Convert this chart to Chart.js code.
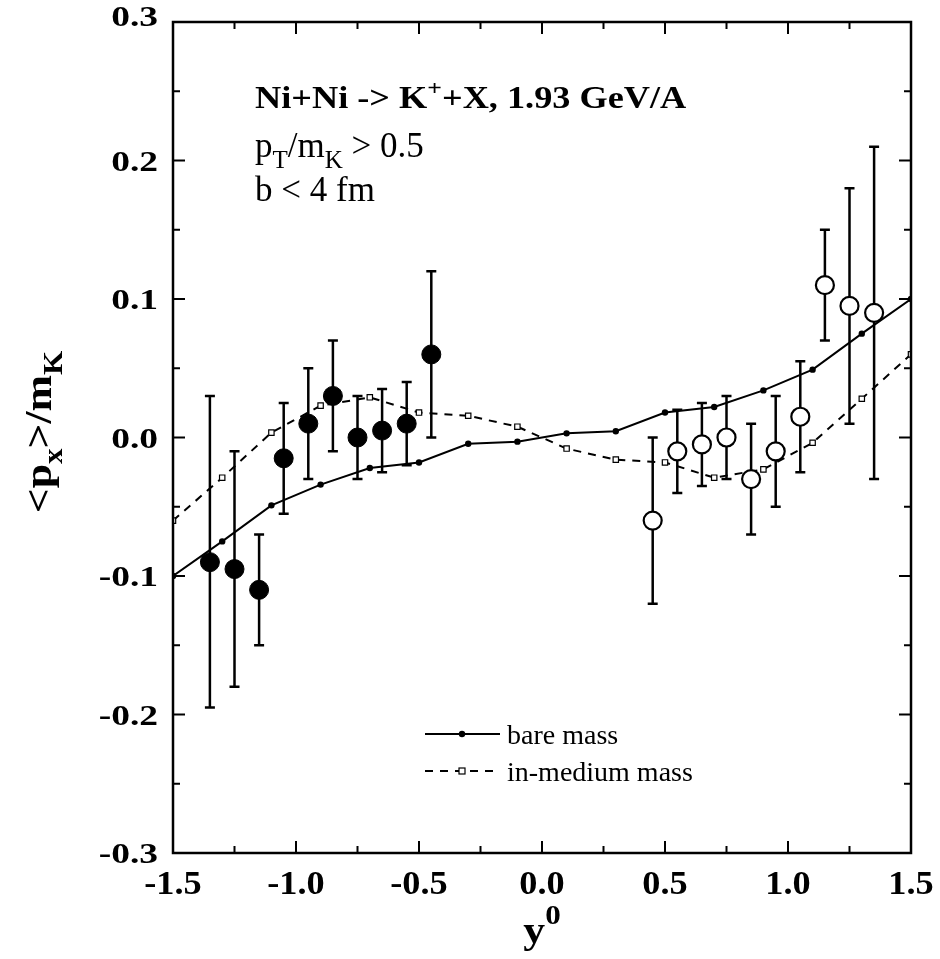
<!DOCTYPE html>
<html>
<head>
<meta charset="UTF-8">
<title>Ni+Ni -> K+ X, directed flow</title>
<script src="https://cdn.jsdelivr.net/npm/chart.js"></script>
<style>
  html, body { margin: 0; padding: 0; background: #fff; }
  #wrap { width: 940px; height: 959px; }
</style>
</head>
<body>
<div id="wrap"><canvas id="grafico" width="940" height="959"></canvas></div>
<script>
// --- data ---
// measured points, y0 < 0 (filled circles)
var rapFilled = [-1.35, -1.25, -1.15, -1.05, -0.95, -0.85, -0.75, -0.65, -0.55, -0.45];
var pxFilled  = [-0.09, -0.095, -0.11, -0.015, 0.01, 0.03, 0.0, 0.005, 0.01, 0.06];
var loFilled  = [-0.195, -0.18, -0.15, -0.055, -0.03, -0.01, -0.03, -0.025, -0.02, 0.0];
var hiFilled  = [0.03, -0.01, -0.07, 0.025, 0.05, 0.07, 0.03, 0.035, 0.04, 0.12];

// measured points, y0 > 0 (open circles)
var rapOpen = [0.45, 0.55, 0.65, 0.75, 0.85, 0.95, 1.05, 1.15, 1.25, 1.35];
var pxOpen  = [-0.06, -0.01, -0.005, 0.0, -0.03, -0.01, 0.015, 0.11, 0.095, 0.09];
var loOpen  = [-0.12, -0.04, -0.035, -0.03, -0.07, -0.05, -0.025, 0.07, 0.01, -0.03];
var hiOpen  = [0.0, 0.02, 0.025, 0.03, 0.01, 0.03, 0.055, 0.15, 0.18, 0.21];

// model curves
var rapModel   = [-1.5, -1.3, -1.1, -0.9, -0.7, -0.5, -0.3, -0.1, 0.1, 0.3, 0.5, 0.7, 0.9, 1.1, 1.3, 1.5];
var bareMass   = [-0.1, -0.075, -0.049, -0.034, -0.022, -0.018, -0.0045, -0.003, 0.003, 0.0045, 0.018, 0.022, 0.034, 0.049, 0.075, 0.1];
var mediumMass = [-0.06, -0.029, 0.0035, 0.023, 0.029, 0.018, 0.0157, 0.0078, -0.008, -0.016, -0.018, -0.029, -0.023, -0.0038, 0.028, 0.06];

// ticks
var xTickValues = [-1.5, -1.0, -0.5, 0.0, 0.5, 1.0, 1.5];
var xTickLabels = ['-1.5', '-1.0', '-0.5', '0.0', '0.5', '1.0', '1.5'];
var yTickValues = [-0.3, -0.2, -0.1, 0.0, 0.1, 0.2, 0.3];
var yTickLabels = ['-0.3', '-0.2', '-0.1', '0.0', '0.1', '0.2', '0.3'];

var legendLabels = ['bare mass', 'in-medium mass'];

function pts(xs, ys) {
    var out = [];
    for (var i = 0; i < xs.length; i++) out.push({ x: xs[i], y: ys[i] });
    return out;
}

var SERIF = '"Liberation Serif", "Times New Roman", serif';

// draws text made of pieces (sub/superscripts), stretched horizontally by sx
function richText(ctx, parts, x, y, size, weight, sx, align) {
    var w = 0;
    parts.forEach(function (p) {
        ctx.font = weight + ' ' + Math.round(size * (p.s || 1)) + 'px ' + SERIF;
        p._w = ctx.measureText(p.t).width;
        w += p._w;
    });
    var start = x;
    if (align === 'center') start = x - w * sx / 2;
    if (align === 'right') start = x - w * sx;
    ctx.save();
    ctx.translate(start, y);
    ctx.scale(sx, 1);
    ctx.textAlign = 'left';
    ctx.textBaseline = 'alphabetic';
    var cx = 0;
    parts.forEach(function (p) {
        ctx.font = weight + ' ' + Math.round(size * (p.s || 1)) + 'px ' + SERIF;
        ctx.fillText(p.t, cx, (p.dy || 0) * size);
        cx += p._w;
    });
    ctx.restore();
}

var decor = {
    id: 'decor',
    beforeDatasetsDraw: function (chart) {
        var ctx = chart.ctx, xs = chart.scales.x, ys = chart.scales.y;
        ctx.save();
        ctx.strokeStyle = '#000';
        ctx.lineWidth = 2.5;
        function bars(rap, lo, hi) {
            for (var i = 0; i < rap.length; i++) {
                var px = xs.getPixelForValue(rap[i]);
                var p1 = ys.getPixelForValue(lo[i]);
                var p2 = ys.getPixelForValue(hi[i]);
                ctx.beginPath();
                ctx.moveTo(px, p1); ctx.lineTo(px, p2);
                ctx.moveTo(px - 5, p1); ctx.lineTo(px + 5, p1);
                ctx.moveTo(px - 5, p2); ctx.lineTo(px + 5, p2);
                ctx.stroke();
            }
        }
        bars(rapFilled, loFilled, hiFilled);
        bars(rapOpen, loOpen, hiOpen);
        ctx.restore();
    },
    afterDraw: function (chart) {
        var ctx = chart.ctx, a = chart.chartArea;
        var xs = chart.scales.x, ys = chart.scales.y;
        ctx.save();
        ctx.fillStyle = '#000';
        ctx.strokeStyle = '#000';

        // frame
        ctx.lineWidth = 2.5;
        ctx.strokeRect(a.left, a.top, a.right - a.left, a.bottom - a.top);

        // inside ticks on all four sides, major + minor
        ctx.lineWidth = 2;
        ctx.beginPath();
        for (var i = 0; i < xTickValues.length; i++) {
            var px = xs.getPixelForValue(xTickValues[i]);
            ctx.moveTo(px, a.bottom); ctx.lineTo(px, a.bottom - 12);
            ctx.moveTo(px, a.top); ctx.lineTo(px, a.top + 12);
            if (i < xTickValues.length - 1) {
                var pm = xs.getPixelForValue((xTickValues[i] + xTickValues[i + 1]) / 2);
                ctx.moveTo(pm, a.bottom); ctx.lineTo(pm, a.bottom - 7);
                ctx.moveTo(pm, a.top); ctx.lineTo(pm, a.top + 7);
            }
        }
        for (var j = 0; j < yTickValues.length; j++) {
            var py = ys.getPixelForValue(yTickValues[j]);
            ctx.moveTo(a.left, py); ctx.lineTo(a.left + 12, py);
            ctx.moveTo(a.right, py); ctx.lineTo(a.right - 12, py);
            if (j < yTickValues.length - 1) {
                var qm = ys.getPixelForValue((yTickValues[j] + yTickValues[j + 1]) / 2);
                ctx.moveTo(a.left, qm); ctx.lineTo(a.left + 7, qm);
                ctx.moveTo(a.right, qm); ctx.lineTo(a.right - 7, qm);
            }
        }
        ctx.stroke();

        // tick labels
        for (var k = 0; k < xTickValues.length; k++) {
            richText(ctx, [{ t: xTickLabels[k] }], xs.getPixelForValue(xTickValues[k]), a.bottom + 41, 33, 'bold', 1.1, 'center');
        }
        for (var m = 0; m < yTickValues.length; m++) {
            var ly = ys.getPixelForValue(yTickValues[m]) + 10;
            if (m === yTickValues.length - 1) ly -= 6; // top label sits a little above its tick
            richText(ctx, [{ t: yTickLabels[m] }], a.left - 15, ly, 30, 'bold', 1.25, 'right');
        }

        // axis titles
        richText(ctx, [{ t: 'y' }, { t: '0', s: 0.7, dy: -0.5 }], (a.left + a.right) / 2, 943, 38, 'bold', 1.15, 'center');
        ctx.save();
        ctx.translate(51, 432);
        ctx.rotate(-Math.PI / 2);
        richText(ctx, [{ t: '<p' }, { t: 'x', s: 0.7, dy: 0.28 }, { t: '>/m' }, { t: 'K', s: 0.7, dy: 0.28 }], 0, 0, 38, 'bold', 1.15, 'center');
        ctx.restore();

        // annotation
        richText(ctx, [{ t: 'Ni+Ni -> K' }, { t: '+', s: 0.7, dy: -0.42 }, { t: '+X, 1.93 GeV/A' }], 255, 108, 31, 'bold', 1.17, 'left');
        richText(ctx, [{ t: 'p' }, { t: 'T', s: 0.72, dy: 0.3 }, { t: '/m' }, { t: 'K', s: 0.72, dy: 0.3 }, { t: ' > 0.5' }], 255, 157, 35, 'normal', 1.0, 'left');
        richText(ctx, [{ t: 'b < 4 fm' }], 255, 201, 35, 'normal', 1.0, 'left');

        // legend
        ctx.lineWidth = 2;
        ctx.beginPath();
        ctx.moveTo(425, 734); ctx.lineTo(500, 734);
        ctx.stroke();
        ctx.beginPath();
        ctx.arc(462, 734, 3.2, 0, Math.PI * 2);
        ctx.fill();
        ctx.setLineDash([8, 7]);
        ctx.beginPath();
        ctx.moveTo(425, 771); ctx.lineTo(495, 771);
        ctx.stroke();
        ctx.setLineDash([]);
        ctx.fillStyle = '#fff';
        ctx.fillRect(459, 768, 6, 6);
        ctx.lineWidth = 1.2;
        ctx.strokeRect(459, 768, 6, 6);
        ctx.fillStyle = '#000';
        richText(ctx, [{ t: legendLabels[0] }], 507, 744, 28, 'normal', 1.0, 'left');
        richText(ctx, [{ t: legendLabels[1] }], 507, 781, 28, 'normal', 1.0, 'left');

        ctx.restore();
    }
};

new Chart(document.getElementById('grafico').getContext('2d'), {
    type: 'line',
    data: {
        datasets: [
            {
                label: legendLabels[0],
                data: pts(rapModel, bareMass),
                borderColor: '#000',
                borderWidth: 2,
                pointRadius: 3.2,
                pointBackgroundColor: '#000',
                pointBorderWidth: 0,
                tension: 0,
                order: 3
            },
            {
                label: legendLabels[1],
                data: pts(rapModel, mediumMass),
                borderColor: '#000',
                borderWidth: 2,
                borderDash: [8, 7],
                pointStyle: 'rect',
                pointRadius: 3.8,
                pointBackgroundColor: '#fff',
                pointBorderColor: '#000',
                pointBorderWidth: 1.2,
                tension: 0,
                order: 2
            },
            {
                label: 'data y0<0',
                data: pts(rapFilled, pxFilled),
                showLine: false,
                pointRadius: 9.5,
                pointBackgroundColor: '#000',
                pointBorderColor: '#000',
                pointBorderWidth: 1,
                order: 1
            },
            {
                label: 'data y0>0',
                data: pts(rapOpen, pxOpen),
                showLine: false,
                pointRadius: 9,
                pointBackgroundColor: '#fff',
                pointBorderColor: '#000',
                pointBorderWidth: 2.2,
                order: 0
            }
        ]
    },
    options: {
        responsive: false,
        devicePixelRatio: 1,
        animation: false,
        layout: { padding: { top: 22, right: 29, left: 0, bottom: 0 } },
        plugins: { legend: { display: false }, tooltip: { enabled: false } },
        scales: {
            x: {
                type: 'linear',
                min: -1.5,
                max: 1.5,
                grid: { display: false, drawTicks: false },
                border: { display: false },
                ticks: { display: false },
                afterBuildTicks: function (s) { s.ticks = xTickValues.map(function (v) { return { value: v }; }); },
                afterFit: function (s) { s.height = 106; }
            },
            y: {
                min: -0.3,
                max: 0.3,
                grid: { display: false, drawTicks: false },
                border: { display: false },
                ticks: { display: false },
                afterBuildTicks: function (s) { s.ticks = yTickValues.map(function (v) { return { value: v }; }); },
                afterFit: function (s) { s.width = 173; }
            }
        }
    },
    plugins: [decor]
});
</script>
</body>
</html>
